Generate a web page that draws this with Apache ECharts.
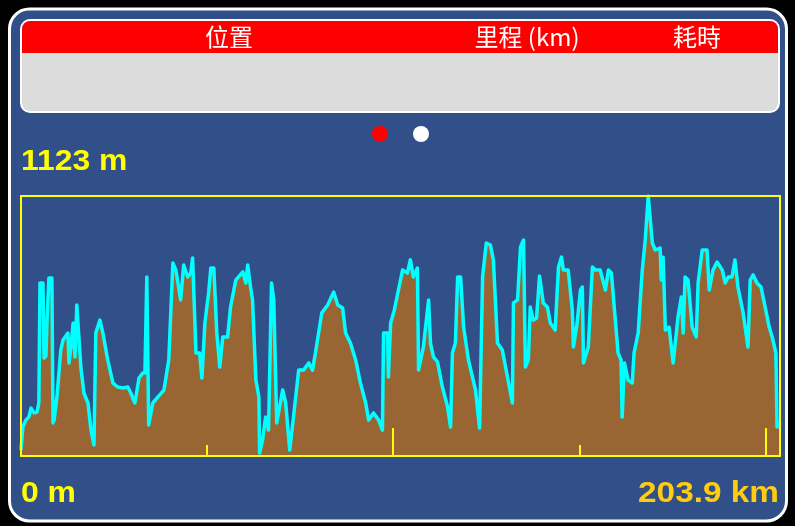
<!DOCTYPE html>
<html>
<head>
<meta charset="utf-8">
<script src="https://cdn.jsdelivr.net/npm/echarts@6/dist/echarts.min.js"></script>
<style>
  html, body { margin: 0; padding: 0; background: #000; }
  #chart { width: 795px; height: 526px; }
</style>
</head>
<body>
<div id="chart"></div>
<script>
// elevation profile, distance in km / altitude in m
const distKm = [
  0, 0.5, 1.3, 2.1, 2.7, 3.5, 4.3, 4.8, 5.1, 5.9,
  6.2, 6.7, 7.0, 7.5, 8.3, 8.6, 8.9, 9.7, 10.7, 11.3,
  12.6, 12.9, 13.4, 14.0, 14.5, 15.0, 15.6, 16.1, 16.9, 18.0,
  18.8, 19.6, 20.1, 21.2, 22.0, 23.3, 24.7, 26.0, 27.4, 28.7,
  29.5, 30.6, 31.7, 32.7, 33.3, 33.8, 34.3, 35.4, 36.8, 38.4,
  39.7, 40.8, 41.6, 42.9, 43.7, 44.8, 45.6, 46.1, 47.0, 48.0,
  48.6, 49.4, 50.4, 51.0, 51.8, 52.6, 53.4, 54.2, 55.5, 56.3,
  57.7, 59.6, 60.4, 60.9, 61.7, 62.2, 63.1, 63.9, 64.1, 64.9,
  65.7, 66.5, 67.3, 67.9, 68.7, 70.3, 71.1, 72.2, 73.2, 74.6,
  75.9, 77.3, 78.3, 79.1, 80.8, 82.4, 84.0, 85.1, 86.4, 87.2,
  88.5, 89.9, 91.2, 92.6, 93.4, 94.7, 96.1, 97.1, 97.4, 98.5,
  98.7, 99.3, 100.3, 101.4, 102.5, 103.8, 104.6, 105.4, 106.5, 106.8,
  108.1, 109.5, 110.0, 110.8, 111.9, 113.2, 114.6, 115.4, 115.9, 116.7,
  117.3, 118.1, 118.9, 120.2, 122.1, 123.2, 124.0, 125.0, 126.1, 126.9,
  128.0, 129.3, 130.7, 132.0, 132.3, 133.4, 134.2, 135.0, 135.5, 136.3,
  136.8, 137.6, 138.5, 139.3, 140.3, 141.4, 142.2, 143.5, 144.4, 145.2,
  145.7, 147.0, 148.1, 148.4, 149.4, 150.3, 150.8, 151.1, 152.4, 153.5,
  154.3, 155.6, 157.0, 157.8, 158.6, 159.6, 160.4, 161.2, 161.5, 162.1,
  163.1, 164.2, 164.7, 165.8, 166.9, 167.7, 168.5, 169.0, 169.6, 170.4,
  171.7, 172.0, 172.5, 173.1, 174.1, 175.2, 176.5, 177.4, 177.9, 178.4,
  179.2, 180.3, 181.4, 181.9, 183.0, 184.3, 184.9, 185.9, 187.0, 188.4,
  189.2, 190.0, 191.0, 191.8, 192.6, 194.0, 195.3, 195.9, 196.7, 197.7,
  198.8, 199.9, 201.0, 201.8, 202.8, 203.1, 203.9
]
const elevM = [
  26, 125, 155, 168, 207, 186, 190, 229, 747, 747,
  423, 432, 587, 769, 769, 143, 155, 263, 458, 501,
  531, 402, 471, 574, 428, 652, 501, 380, 272, 229,
  112, 48, 531, 587, 531, 415, 315, 298, 294, 298,
  272, 229, 337, 358, 358, 773, 134, 229, 255, 285,
  415, 834, 803, 674, 825, 773, 790, 855, 445, 445,
  337, 574, 704, 812, 812, 531, 384, 514, 514, 644,
  760, 795, 747, 825, 726, 674, 328, 255, 13, 69,
  168, 112, 747, 674, 143, 285, 229, 26, 168, 371,
  371, 402, 371, 445, 618, 652, 708, 652, 639, 531,
  488, 415, 315, 229, 155, 186, 155, 112, 531, 531,
  341, 574, 631, 717, 803, 790, 847, 773, 812, 371,
  471, 674, 488, 428, 406, 298, 212, 125, 445, 488,
  773, 773, 557, 415, 285, 121, 773, 920, 911, 847,
  488, 458, 341, 229, 661, 674, 903, 933, 384, 415,
  644, 587, 595, 777, 661, 644, 574, 544, 816, 859,
  803, 803, 631, 471, 574, 717, 730, 402, 471, 816,
  803, 803, 717, 803, 790, 600, 445, 415, 168, 402,
  328, 315, 445, 531, 803, 933, 1123, 1123, 920, 890,
  898, 760, 859, 544, 557, 402, 600, 687, 531, 773,
  760, 557, 514, 747, 890, 890, 717, 803, 838, 803,
  747, 773, 773, 847, 730, 618, 471, 760, 782, 747,
  730, 644, 557, 514, 445, 125, 143
]
const headerCols = ['位置', '里程 (km)', '耗時']
const maxElevLabel = '1123 m'
const minElevLabel = '0 m'
const totalDistLabel = '203.9 km'
const totalKm = 203.9
const maxElev = 1123

const chart = echarts.init(document.getElementById('chart'))

const numFont = 'bold 29px "Liberation Sans", Arial, sans-serif'
const cjkFont = '24px "Noto Sans CJK TC", "Noto Sans CJK SC", sans-serif'

const option = {
  backgroundColor: '#000',
  animation: false,
  graphic: [
    // card
    {
      type: 'rect', z: -10,
      shape: { x: 9.5, y: 9, width: 777, height: 512, r: 20 },
      style: { fill: '#31508A', stroke: '#fff', lineWidth: 3 }
    },
    // table panel
    {
      type: 'rect', z: -9,
      shape: { x: 21, y: 20, width: 758, height: 92, r: 9 },
      style: { fill: '#DCDCDC', stroke: '#fff', lineWidth: 2 }
    },
    {
      type: 'rect', z: -8,
      shape: { x: 22, y: 21, width: 756, height: 32, r: [8, 8, 0, 0] },
      style: { fill: '#FF0000' }
    },
    {
      type: 'text', z: 5, x: 229, y: 37,
      style: { text: headerCols[0], fill: '#fff', font: cjkFont, align: 'center', verticalAlign: 'middle' }
    },
    {
      type: 'text', z: 5, x: 527, y: 37,
      style: { text: headerCols[1], fill: '#fff', font: cjkFont, align: 'center', verticalAlign: 'middle' }
    },
    {
      type: 'text', z: 5, x: 697, y: 37,
      style: { text: headerCols[2], fill: '#fff', font: cjkFont, align: 'center', verticalAlign: 'middle' }
    },
    // page dots
    {
      type: 'circle', z: 5,
      shape: { cx: 380, cy: 134, r: 8 },
      style: { fill: '#FF0000' }
    },
    {
      type: 'circle', z: 5,
      shape: { cx: 421, cy: 134, r: 8 },
      style: { fill: '#fff' }
    },
    // labels
    {
      type: 'text', z: 5, x: 21, y: 162, scaleX: 1.1,
      style: { text: maxElevLabel, fill: '#FFFF00', font: numFont, verticalAlign: 'middle' }
    },
    {
      type: 'text', z: 5, x: 21, y: 494, scaleX: 1.1,
      style: { text: minElevLabel, fill: '#FFFF00', font: numFont, verticalAlign: 'middle' }
    },
    {
      type: 'text', z: 5, x: 779, y: 494, scaleX: 1.15,
      style: { text: totalDistLabel, fill: '#FFCC11', font: numFont, align: 'right', verticalAlign: 'middle' }
    }
  ],
  grid: {
    left: 21,
    right: 15,
    top: 196,
    bottom: 70,
    show: true,
    borderColor: '#FFFF00',
    borderWidth: 2,
    backgroundColor: 'transparent',
    z: 3
  },
  xAxis: [
    {
      type: 'value',
      position: 'bottom',
      min: 0,
      max: totalKm,
      interval: 100,
      axisLine: { show: false },
      axisLabel: { show: false },
      splitLine: { show: false },
      axisTick: { show: true, inside: true, length: 28, lineStyle: { color: '#FFFF00', width: 2 } },
      z: 4
    },
    {
      type: 'value',
      position: 'bottom',
      min: 0,
      max: totalKm,
      interval: 50,
      axisLine: { show: false },
      axisLabel: { show: false },
      splitLine: { show: false },
      axisTick: { show: true, inside: true, length: 11, lineStyle: { color: '#FFFF00', width: 2 } },
      z: 4
    }
  ],
  yAxis: {
    type: 'value',
    min: 0,
    max: maxElev,
    show: false
  },
  series: [
    {
      type: 'line',
      xAxisIndex: 0,
      data: distKm.map((d, i) => [d, elevM[i]]),
      showSymbol: false,
      lineStyle: { color: '#00FFFF', width: 3.5, join: 'round' },
      areaStyle: { color: '#996633', opacity: 1 },
      z: 2
    }
  ]
}

chart.setOption(option)
</script>
</body>
</html>
